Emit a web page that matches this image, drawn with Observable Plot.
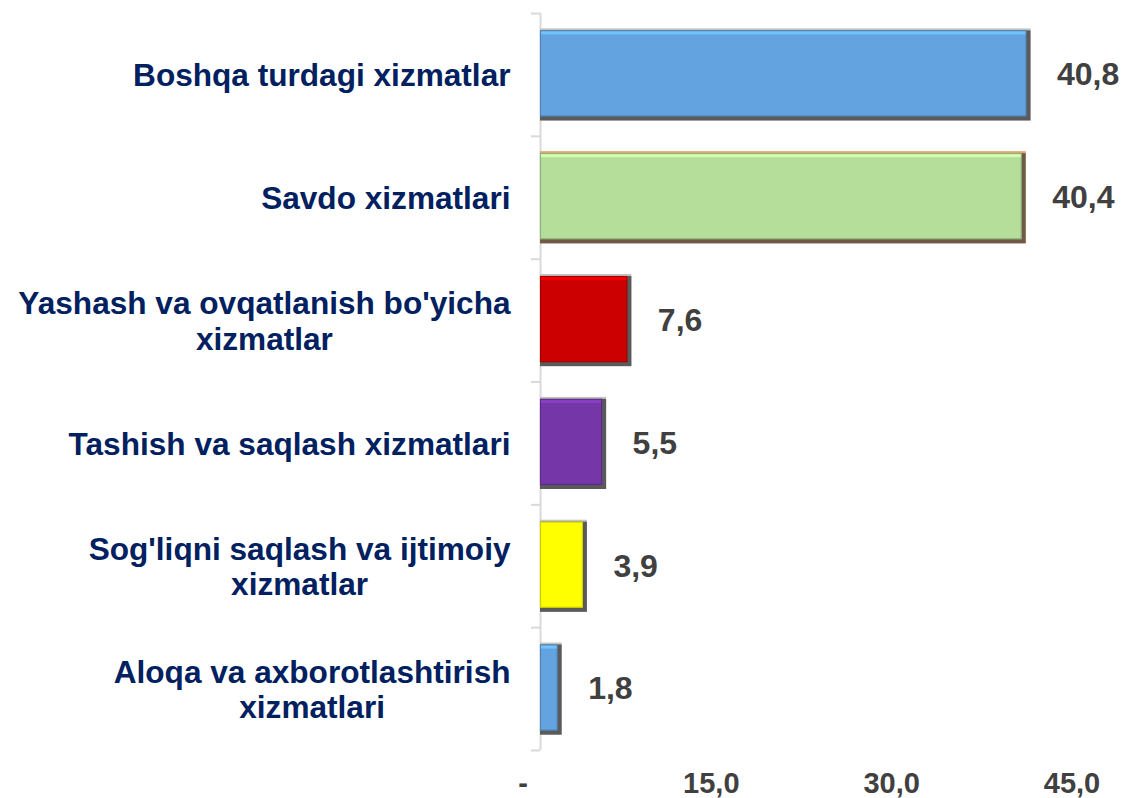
<!DOCTYPE html>
<html>
<head>
<meta charset="utf-8">
<script src="https://cdn.jsdelivr.net/npm/d3@7"></script>
<script src="https://cdn.jsdelivr.net/npm/@observablehq/plot@0.6"></script>
<style>
  html, body { margin: 0; padding: 0; background: #ffffff; }
  #chart svg { display: block; }
</style>
</head>
<body>
<div id="chart"></div>
<script>
const categories = [
  "Boshqa turdagi xizmatlar",
  "Savdo xizmatlari",
  "Yashash va ovqatlanish bo'yicha\nxizmatlar",
  "Tashish va saqlash xizmatlari",
  "Sog'liqni saqlash va ijtimoiy\nxizmatlar",
  "Aloqa va axborotlashtirish\nxizmatlari"
];
const values = [40.8, 40.4, 7.6, 5.5, 3.9, 1.8];
const barColors = ["#63a4e0", "#b4de99", "#cc0000", "#7536a8", "#ffff00", "#63a4e0"];
const topEdgeColors = ["#c4c4c4", "#e2a374", "#c4c4c4", "#c4c4c4", "#c4c4c4", "#c4c4c4"];
const shadowColors = ["#5a5a5a", "#6e5a47", "#5a5a5a", "#5a5a5a", "#5a5a5a", "#5a5a5a"];
const xTicks = [0, 15, 30, 45];
const xTickLabels = ["-", "15,0", "30,0", "45,0"];

const W = 1126, H = 798, mTop = 13, mBottom = 48, mLeft = 540, mRight = 45;
const padInner = 0.25;
const step = (H - mTop - mBottom) / categories.length;
const bw = step * (1 - padInner);

const table = categories.map((c, i) => ({
  category: c,
  value: values[i],
  color: barColors[i],
  edge: topEdgeColors[i],
  shadow: shadowColors[i],
  light: d3.color(barColors[i]).brighter(0.45).formatHex(),
  dark: d3.color(barColors[i]).darker(0.6).formatHex(),
  label: d3.format(".1f")(values[i]).replace(".", ",")
}));

const fontFamily = "'Liberation Sans', Arial, Helvetica, sans-serif";
const catFont = 31.6;
const ctx = document.createElement("canvas").getContext("2d");
ctx.font = `bold ${catFont}px ${fontFamily}`;
function blockWidth(s) {
  return d3.max(s.split("\n"), line => ctx.measureText(line).width);
}

const categoryMarks = categories.map(c => Plot.text([c], {
  x: () => 0,
  y: d => d,
  text: d => d,
  textAnchor: "middle",
  lineAnchor: "middle",
  lineHeight: 1.12,
  dx: -(30 + blockWidth(c) / 2),
  fontSize: catFont,
  fontWeight: "bold",
  fill: "#002060"
}));

const chart = Plot.plot({
  width: W,
  height: H,
  marginTop: mTop,
  marginBottom: mBottom,
  marginLeft: mLeft,
  marginRight: mRight,
  style: { fontFamily, background: "#ffffff" },
  x: { domain: [0, 45], label: null },
  y: { domain: categories, paddingInner: padInner, paddingOuter: padInner / 2, round: false, label: null },
  marks: [
    // axis line and category boundary ticks
    Plot.ruleX([0], { stroke: "#d9d9d9", strokeWidth: 2 }),
    Plot.axisY({ tickSize: 9, tickFormat: () => "", label: null, stroke: "#d9d9d9", strokeWidth: 2, dy: -step / 2 }),
    Plot.axisY([categories[categories.length - 1]], { tickSize: 9, tickFormat: () => "", label: null, stroke: "#d9d9d9", strokeWidth: 2, dy: step / 2 }),
    // bars with bevel / shadow
    Plot.barX(table, { x: "value", y: "category", fill: d => d.edge }),
    Plot.barX(table, { x: "value", y: "category", fill: d => d.shadow, insetTop: 2 }),
    Plot.barX(table, { x: "value", y: "category", fill: d => d.color, stroke: d => d.dark, strokeWidth: 1.2, insetTop: 2.5, insetRight: 4.5, insetBottom: 4.5, insetLeft: 0.5 }),
    Plot.barX(table, { x: "value", y: "category", fill: d => d.light, insetTop: 3, insetRight: 5, insetBottom: bw - 6, insetLeft: 1 }),
    // value labels
    Plot.text(table, {
      x: "value", y: "category", text: "label",
      textAnchor: "start", dx: 26,
      fontSize: 32, fontWeight: "bold", fill: "#404040"
    }),
    // category labels
    ...categoryMarks,
    // x tick labels
    Plot.axisX(xTicks.slice(1), {
      tickSize: 0, tickPadding: 22, label: null,
      tickFormat: d => xTickLabels[xTicks.indexOf(d)],
      fontSize: 29, fontWeight: "bold", color: "#404040", dx: -9.5
    }),
    Plot.axisX(xTicks.slice(0, 1), {
      tickSize: 0, tickPadding: 22, label: null,
      tickFormat: d => xTickLabels[xTicks.indexOf(d)],
      fontSize: 29, fontWeight: "bold", color: "#404040", dx: -17.5
    })
  ]
});

document.getElementById("chart").appendChild(chart);
</script>
</body>
</html>
